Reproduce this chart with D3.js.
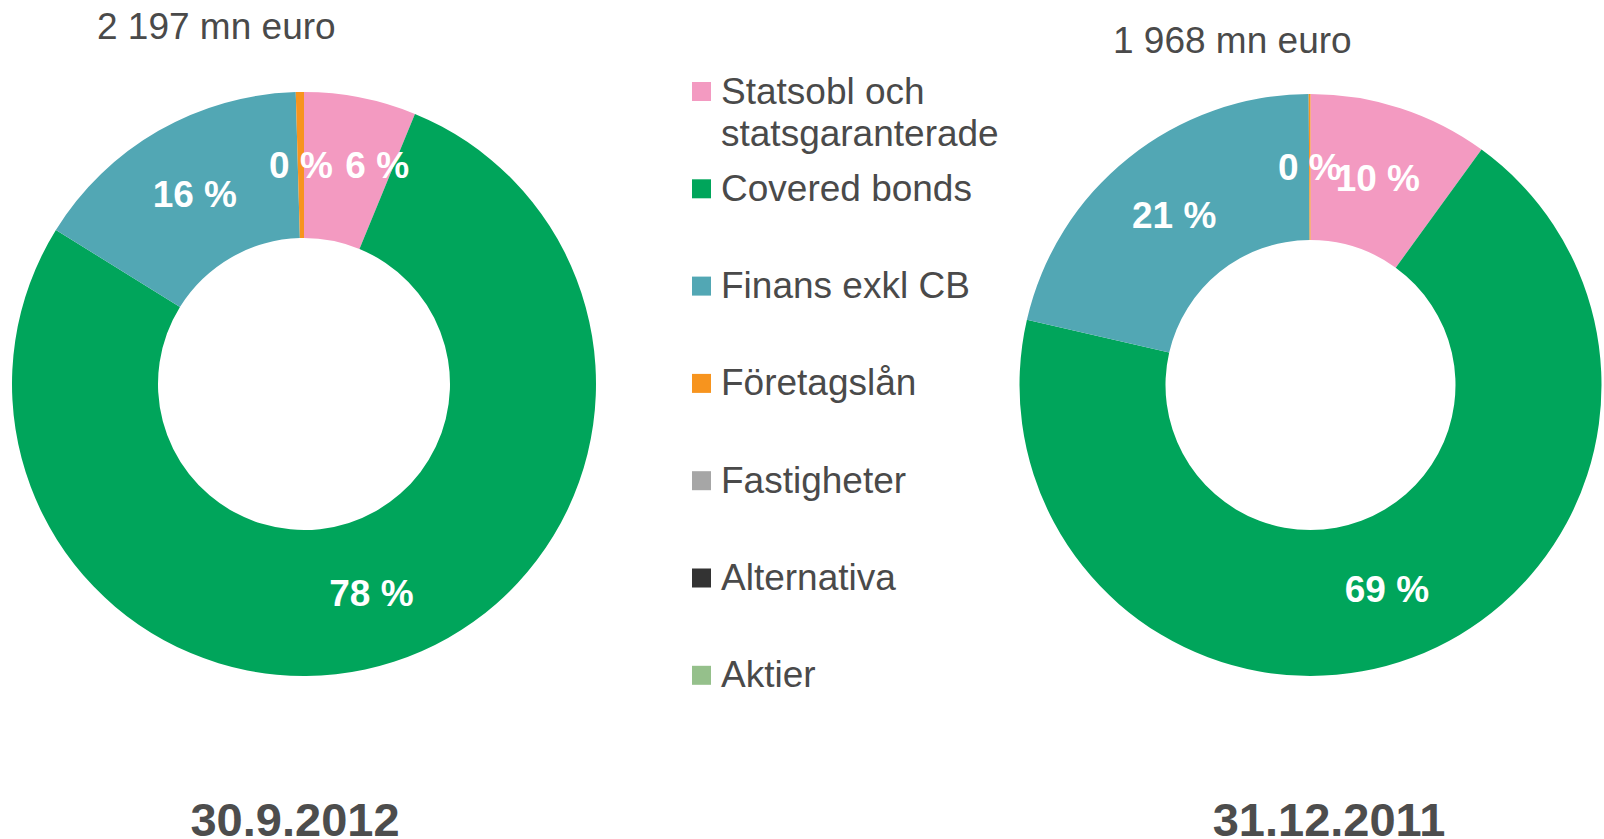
<!DOCTYPE html>
<html>
<head>
<meta charset="utf-8">
<script src="https://cdn.jsdelivr.net/npm/d3@7"></script>
<style>
    html, body { margin: 0; padding: 0; background: #fff; }
    svg { display: block; font-family: "Liberation Sans", Arial, sans-serif; }
</style>
</head>
<body>
<div id="chart"></div>
<script>
// categories, in the order the slices run clockwise from 12 o'clock
const categories = [
    "Statsobl och statsgaranterade",
    "Covered bonds",
    "Finans exkl CB",
    "Företagslån",
    "Fastigheter",
    "Alternativa",
    "Aktier"
];
const colors = ["#f39ac1", "#00a55b", "#52a7b4", "#f7941e", "#a6a6a6", "#333333", "#95c08b"];

// share of portfolio, %
const values2012 = [6.2, 77.6, 15.7, 0.45, 0, 0, 0];
const values2011 = [10.0, 68.6, 21.3, 0.1, 0, 0, 0];

const totals = ["2 197 mn euro", "1 968 mn euro"];
const dates = ["30.9.2012", "31.12.2011"];

const width = 1604, height = 839;
const textColor = "#4a4a4a";

const svg = d3.select("#chart").append("svg")
    .attr("width", width)
    .attr("height", height);

const charts = [
    {values: values2012, total: totals[0], date: dates[0], cx: 304, cy: 384, outer: 292, inner: 146,
        totalX: 97, totalY: 39, dateX: 295},
    {values: values2011, total: totals[1], date: dates[1], cx: 1310.5, cy: 385, outer: 291, inner: 145,
        totalX: 1113, totalY: 53, dateX: 1329}
];

const pie = d3.pie().sort(null).value(d => d);

charts.forEach(c => {
    const arc = d3.arc().innerRadius(c.inner).outerRadius(c.outer);
    const g = svg.append("g").attr("transform", "translate(" + c.cx + "," + c.cy + ")");
    const arcs = pie(c.values);

    g.selectAll("path.slice")
        .data(arcs)
        .enter().append("path")
        .attr("class", "slice")
        .attr("fill", (d, i) => colors[i])
        .attr("d", arc);

    // labels at the arc centroid, only for non-empty slices
    const labelled = arcs.filter(d => d.value > 0);
    const labels = g.selectAll("text.pct")
        .data(labelled)
        .enter().append("text")
        .attr("class", "pct")
        .attr("x", d => arc.centroid(d)[0])
        .attr("y", d => arc.centroid(d)[1])
        .attr("dy", "0.36em")
        .attr("text-anchor", "middle")
        .attr("fill", "#fff")
        .attr("font-weight", "bold")
        .attr("font-size", 37)
        .text(d => Math.round(d.value) + " %");

    // push overlapping labels apart (like the spreadsheet does)
    const nodes = labels.nodes().map(n => {
        const w = n.getComputedTextLength();
        const x = +n.getAttribute("x");
        return {n, w, x, y: +n.getAttribute("y")};
    }).sort((a, b) => a.x - b.x);
    for (let i = 1; i < nodes.length; i++) {
        const a = nodes[i - 1], b = nodes[i];
        const overlap = (a.x + a.w / 2) - (b.x - b.w / 2);
        if (overlap > 8 && Math.abs(a.y - b.y) < 30) {
            b.x = a.x + a.w / 2 + 12.5 + b.w / 2;
            b.y = a.y;
            b.n.setAttribute("x", b.x);
            b.n.setAttribute("y", b.y);
        }
    }

    svg.append("text")
        .attr("x", c.totalX)
        .attr("y", c.totalY)
        .attr("fill", textColor)
        .attr("font-size", 37)
        .text(c.total);

    svg.append("text")
        .attr("x", c.dateX)
        .attr("y", 836)
        .attr("text-anchor", "middle")
        .attr("fill", "#4d4d4d")
        .attr("font-weight", "bold")
        .attr("font-size", 47)
        .text(c.date);
});

// legend
const legend = svg.append("g").attr("class", "legend");
const legendY = d3.scaleLinear().domain([0, 1]).range([91.5, 188.8]);

const item = legend.selectAll("g.item")
    .data(categories)
    .enter().append("g")
    .attr("class", "item")
    .attr("transform", (d, i) => "translate(692," + legendY(i) + ")");

item.append("rect")
    .attr("x", 0)
    .attr("y", -9.5)
    .attr("width", 19)
    .attr("height", 19)
    .attr("fill", (d, i) => colors[i]);

item.append("text")
    .attr("x", 29)
    .attr("y", 12)
    .attr("fill", textColor)
    .attr("font-size", 37)
    .each(function(d, i) {
        const t = d3.select(this);
        const lines = i === 0 ? ["Statsobl och", "statsgaranterade"] : [d];
        lines.forEach((l, k) => {
            t.append("tspan")
                .attr("x", 29)
                .attr("dy", k === 0 ? 0 : 42.5)
                .text(l);
        });
    });
</script>
</body>
</html>
